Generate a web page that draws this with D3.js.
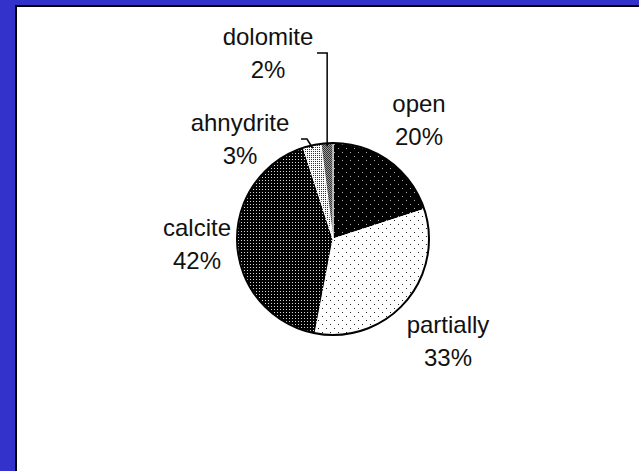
<!DOCTYPE html>
<html>
<head>
<meta charset="utf-8">
<script src="https://cdn.jsdelivr.net/npm/d3@7"></script>
<style>
  html, body { margin: 0; padding: 0; background: #fff; }
  svg { display: block; }
  text { font-family: "Liberation Sans", Arial, sans-serif; font-size: 24px; fill: #111; }
</style>
</head>
<body>
<svg id="chart" width="639" height="471"></svg>
<script>
// Pore filling shares (percent), clockwise from 12 o'clock
const categories = ["open", "partially", "calcite", "ahnydrite", "dolomite"];
const values = [20, 33, 42, 3, 2];
const valueLabels = ["20%", "33%", "42%", "3%", "2%"];

// Label placement: first-line anchor (centre x, baseline y), optional leader start
const labelLayout = [
  { x: 419, y: 112 },
  { x: 448, y: 333 },
  { x: 197, y: 236 },
  { x: 240, y: 131, leader: [301, 139, 307, 139] },
  { x: 268, y: 45, leader: [317, 53, null, 53] }
];

const W = 639, H = 471;
const cx = 333, cy = 239, R = 96;

const svg = d3.select("#chart");
const defs = svg.append("defs");

// Fill patterns, one per slice
function dotPattern(id, size, bg, dot, dots) {
  const p = defs.append("pattern").attr("id", id)
    .attr("patternUnits", "userSpaceOnUse")
    .attr("width", size).attr("height", size);
  p.append("rect").attr("width", size).attr("height", size).attr("fill", bg);
  dots.forEach(([x, y]) => p.append("rect").attr("x", x).attr("y", y)
    .attr("width", 1).attr("height", 1).attr("fill", dot));
  return `url(#${id})`;
}
const fills = [
  dotPattern("pOpen", 8, "#000", "#b0b0b0", [[1, 1], [5, 5]]),
  dotPattern("pPart", 8, "#fff", "#222", [[1, 1], [5, 5]]),
  dotPattern("pCalc", 3, "#000", "#d8d8d8", [[1, 1]]),
  dotPattern("pAnhy", 2, "#fff", "#333", [[0, 0]]),
  dotPattern("pDolo", 2, "#9a9a9a", "#333", [[0, 0], [1, 1]])
];

// Frame: blue band on the left and top with a dark inner rule
svg.append("rect").attr("width", W).attr("height", H).attr("fill", "#3333cc");
svg.append("rect").attr("x", 15).attr("y", 5).attr("width", W - 15).attr("height", H - 5).attr("fill", "#000");
svg.append("rect").attr("x", 17).attr("y", 7).attr("width", W - 17).attr("height", H - 7).attr("fill", "#fff");

const pie = d3.pie().sort(null).value(d => d)(values);
const arc = d3.arc().innerRadius(0).outerRadius(R);

const g = svg.append("g").attr("transform", `translate(${cx},${cy})`);

g.selectAll("path.slice").data(pie).join("path")
  .attr("class", "slice")
  .attr("d", arc)
  .attr("fill", (d, i) => fills[i])
  .attr("stroke", "#fff")
  .attr("stroke-width", 1);

// Outer outline
g.append("circle").attr("r", R).attr("fill", "none").attr("stroke", "#000").attr("stroke-width", 2);

// Labels
labelLayout.forEach((L, i) => {
  const t = svg.append("text").attr("text-anchor", "middle");
  t.append("tspan").attr("x", L.x).attr("y", L.y).text(categories[i]);
  t.append("tspan").attr("x", L.x).attr("y", L.y + 33).text(valueLabels[i]);

  if (L.leader) {
    const a = (pie[i].startAngle + pie[i].endAngle) / 2;
    const ex = cx + Math.sin(a) * (R - 3);
    const ey = cy - Math.cos(a) * (R - 3);
    const [sx, sy, bx0, by] = L.leader;
    const bx = bx0 == null ? ex : bx0;
    svg.append("path")
      .attr("d", d3.line()([[sx, sy], [bx, by], [ex, ey]]))
      .attr("fill", "none").attr("stroke", "#000").attr("stroke-width", 1.5);
  }
});
</script>
</body>
</html>
